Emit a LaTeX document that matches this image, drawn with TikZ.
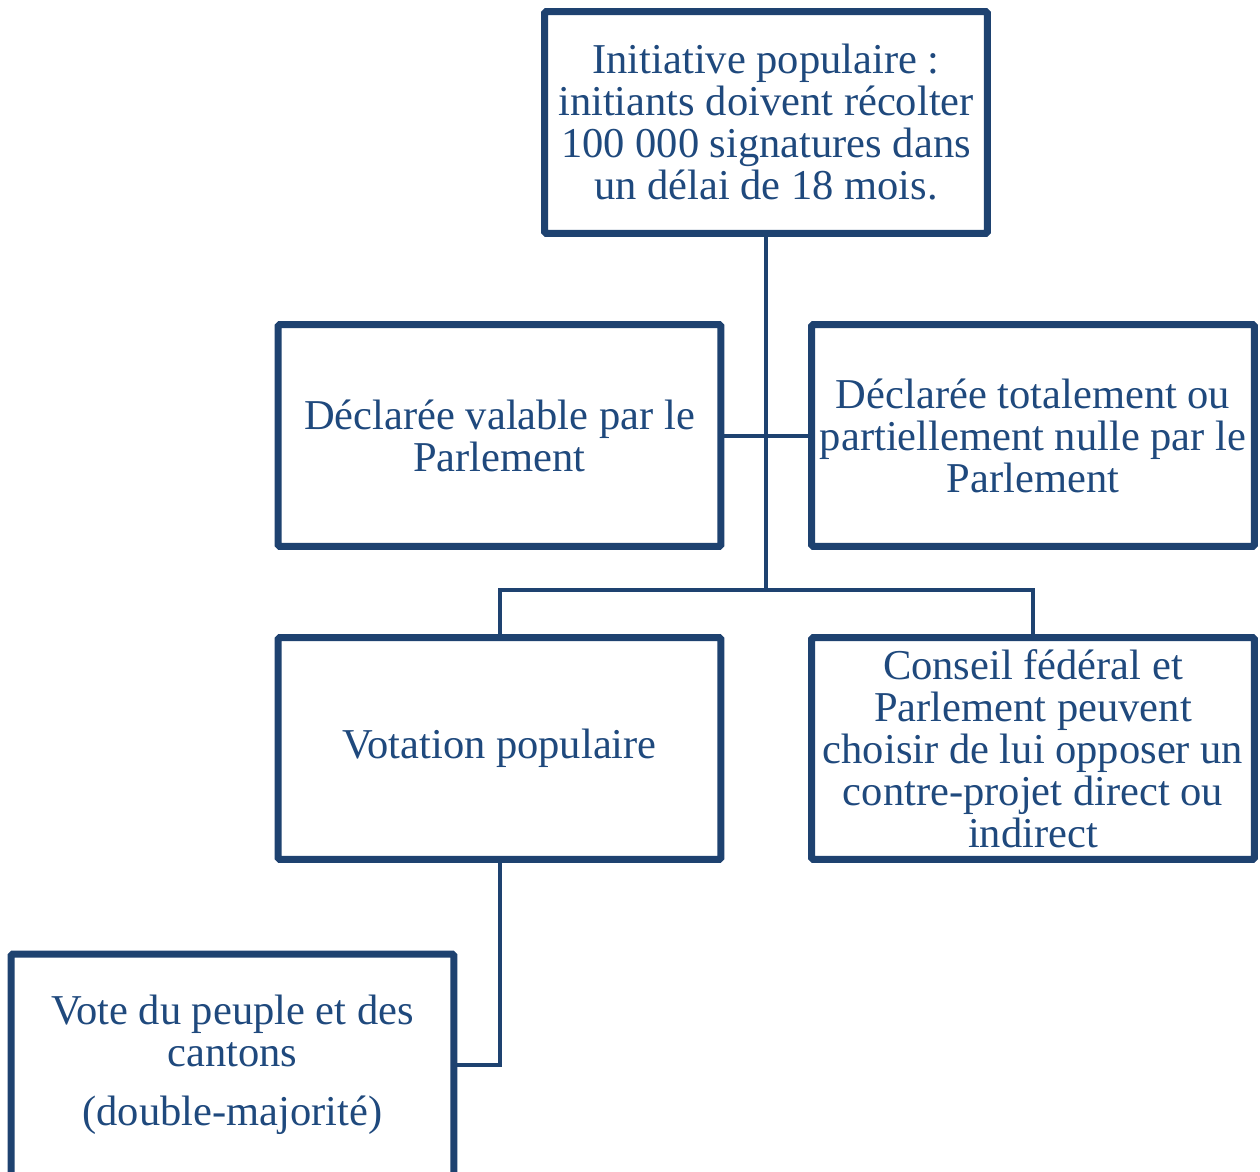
\documentclass[tikz,border=0pt]{standalone}
\usepackage{fontspec}
\setmainfont{Liberation Serif}
\usetikzlibrary{backgrounds,shadows}
\usetikzlibrary{calc, positioning}

\definecolor{boxblue}{RGB}{30,66,112}
\definecolor{textblue}{RGB}{31,73,125}

\begin{document}
\begin{tikzpicture}[x=0.02cm, y=-0.02cm,
		etape/.style={draw=boxblue, line width=0.14cm, fill=white, rounded corners=1pt,
			minimum width=8.86cm, minimum height=4.44cm, inner sep=0pt,
			align=center, text=textblue, font=\fontsize{24.2}{23.9}\selectfont,
			drop shadow={opacity=0.22, shadow xshift=0.05cm, shadow yshift=-0.05cm}},
		lien/.style={draw=boxblue, line width=0.08cm}]

		% page frame (pixel units of the reference)
		\useasboundingbox (0,0) rectangle (1260,1171);

		% boxes
		\node[etape] (init) at (766,122.5)
			{Initiative populaire :\\initiants doivent récolter\\100 000 signatures dans\\un délai de 18 mois.};
		\node[etape] (valable) at (499.5,435.5)
			{Déclarée valable par le\\Parlement};
		\node[etape] (nulle) at (1033,435.5)
			{Déclarée totalement ou\\partiellement nulle par le\\Parlement};
		\node[etape] (votation) at (499.5,748.5)
			{\raisebox{-3pt}{Votation populaire}};
		\node[etape] (conseil) at (1033,748.5)
			{Conseil fédéral et\\Parlement peuvent\\choisir de lui opposer un\\contre-projet direct ou\\indirect};
		\node[etape] (vote) at (232.5,1065)
			{Vote du peuple et des\\cantons\\[0.34cm](double-majorité)};

		\coordinate (fourche) at (766,590);

		% connectors
		\begin{scope}[on background layer]
			\draw[lien] (init.south) -- (fourche);
			\draw[lien] (valable.east) -- (nulle.west);
			\draw[lien] (votation.north) |- (fourche) -| (conseil.north);
			\draw[lien] (votation.south) |- (vote.east);
		\end{scope}

	\end{tikzpicture}
\end{document}
